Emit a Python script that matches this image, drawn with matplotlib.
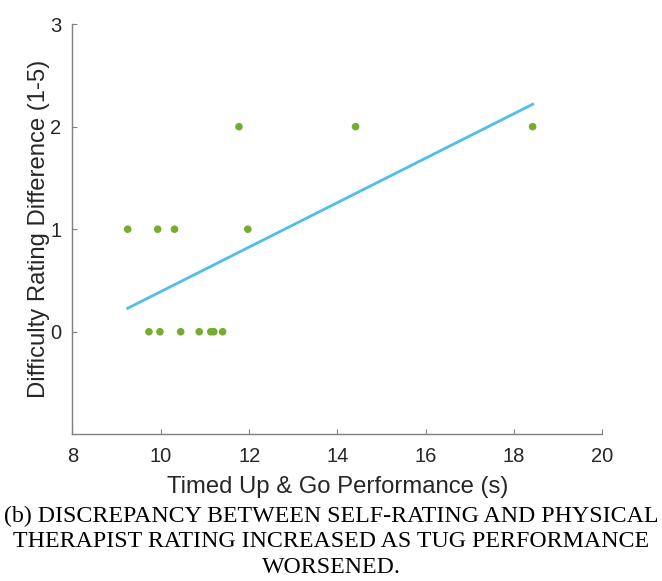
import numpy as np
from matplotlib import pyplot as plt

# Timed Up & Go time (s) and rating difference
tug_time = [9.25, 9.93, 10.31, 11.97, 11.77, 14.41, 18.42,
            9.73, 9.98, 10.45, 10.87, 11.13, 11.20, 11.40]
rating_diff = [1, 1, 1, 1, 2, 2, 2,
               0, 0, 0, 0, 0, 0, 0]
x_ticks = [8, 10, 12, 14, 16, 18, 20]
y_ticks = [0, 1, 2, 3]

caption = ("(b) DISCREPANCY BETWEEN SELF-RATING AND PHYSICAL\n"
           "THERAPIST RATING INCREASED AS TUG PERFORMANCE\n"
           "WORSENED.")

plt.rcParams['font.family'] = ['Liberation Sans', 'DejaVu Sans']

fig = plt.figure(figsize=(6.62, 5.81), dpi=100)
ax = fig.add_axes([0.1095, 0.2525, 0.8005, 0.706])

ax.scatter(tug_time, rating_diff, s=30, color='#77AC30', zorder=3,
           edgecolors='none')

# least squares line across the data range
coef = np.polyfit(tug_time, rating_diff, 1)
xs = np.array([min(tug_time), max(tug_time)])
ax.plot(xs, np.polyval(coef, xs), color='#4DBEEE', linewidth=2)

ax.set_xlim(8, 20)
ax.set_ylim(-1, 3)
ax.set_xticks(x_ticks)
ax.set_yticks(y_ticks)

for side in ['top', 'right']:
    ax.spines[side].set_visible(False)
for side in ['left', 'bottom']:
    ax.spines[side].set_color('#808080')
    ax.spines[side].set_linewidth(1)
ax.tick_params(direction='in', length=3.5, color='#808080', labelsize=14.5,
               labelcolor='#262626')
ax.tick_params(axis='x', pad=9)
ax.tick_params(axis='y', pad=8)

ax.set_xlabel('Timed Up & Go Performance (s)', fontsize=17.2, color='#262626',
              labelpad=7)
ax.set_ylabel('Difficulty Rating Difference (1-5)', fontsize=17.2,
              color='#262626', labelpad=0)

fig.text(0.5, 1 - 541.5 / 581, caption, ha='center', va='center',
         family='Liberation Serif', fontsize=17.2, linespacing=1.28)

plt.savefig('out.png', dpi=100)
